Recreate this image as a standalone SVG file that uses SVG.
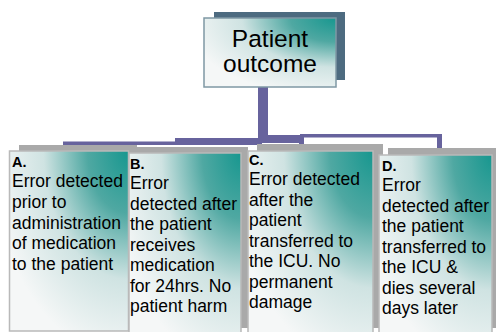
<svg xmlns="http://www.w3.org/2000/svg" width="496" height="332" viewBox="0 0 496 332">
<defs>
<radialGradient id="g" cx="1" cy="0" r="1.15" fx="1" fy="0">
<stop offset="0" stop-color="#17978f"/>
<stop offset="0.3" stop-color="#4fa8a2"/>
<stop offset="0.62" stop-color="#cfe3e2"/>
<stop offset="1" stop-color="#f5f7f7"/>
</radialGradient>
<style>
.sh{fill:#a9a9a9}
.bx{fill:url(#g);stroke:#b9b9b9;stroke-width:1.5}
.lbl{font-family:"Liberation Sans",Arial,sans-serif;font-size:14.5px;font-weight:bold;fill:#000}
.t{font-family:"Liberation Sans",Arial,sans-serif;font-size:17.5px;fill:#000}
.tt{font-family:"Liberation Sans",Arial,sans-serif;font-size:24.5px;fill:#000;text-anchor:middle}
.c{fill:#67639d}
</style>
</defs>
<g id="connectors">
<rect class="c" x="258" y="87" width="10" height="56"/>
<rect class="c" x="258" y="135" width="45" height="8"/>
<rect class="c" x="300" y="134" width="142" height="3.5"/>
<rect class="c" x="437" y="134" width="5" height="15"/>
<rect class="c" x="299" y="137" width="5" height="10"/>
<rect class="c" x="175" y="138" width="87" height="7"/>
<rect class="c" x="63" y="141.5" width="115" height="3.5"/>
</g>
<g id="top">
<rect x="214" y="12" width="131" height="68" fill="#4d6b80"/>
<rect x="204" y="18" width="132" height="69" fill="url(#g)" stroke="#7f98a4" stroke-width="1.5"/>
<text class="tt" x="270" y="46.5">Patient</text>
<text class="tt" x="270" y="71.5">outcome</text>
</g>
<g id="nodeA">
<rect class="sh" x="19" y="145" width="118" height="180"/>
<rect class="bx" x="9.5" y="151" width="119" height="180"/>
<text class="lbl" x="12" y="167">A.</text>
<text class="t" x="12" y="187">Error detected</text>
<text class="t" x="12" y="207.8">prior to</text>
<text class="t" x="12" y="228.6">administration</text>
<text class="t" x="12" y="249.4">of medication</text>
<text class="t" x="12" y="270.2">to the patient</text>
</g>
<g id="nodeB">
<rect class="sh" x="136" y="147" width="112" height="181"/>
<rect class="bx" x="129" y="153" width="112" height="190"/>
<text class="lbl" x="130" y="169">B.</text>
<text class="t" x="130" y="189">Error</text>
<text class="t" x="130" y="209.5">detected after</text>
<text class="t" x="130" y="230">the patient</text>
<text class="t" x="130" y="250.5">receives</text>
<text class="t" x="130" y="271">medication</text>
<text class="t" x="130" y="291.5">for 24hrs. No</text>
<text class="t" x="130" y="312">patient harm</text>
</g>
<g id="nodeC">
<rect class="sh" x="257" y="144" width="126" height="184"/>
<rect class="bx" x="248" y="151" width="125" height="192"/>
<text class="lbl" x="249" y="165">C.</text>
<text class="t" x="249" y="185">Error detected</text>
<text class="t" x="249" y="205.5">after the</text>
<text class="t" x="249" y="226">patient</text>
<text class="t" x="249" y="246.5">transferred to</text>
<text class="t" x="249" y="267">the ICU. No</text>
<text class="t" x="249" y="287.5">permanent</text>
<text class="t" x="249" y="308">damage</text>
</g>
<g id="nodeD">
<rect class="sh" x="388" y="148" width="110" height="180"/>
<rect class="bx" x="379" y="155" width="113" height="190"/>
<text class="lbl" x="382" y="171">D.</text>
<text class="t" x="382" y="191">Error</text>
<text class="t" x="382" y="211.5">detected after</text>
<text class="t" x="382" y="232">the patient</text>
<text class="t" x="382" y="252.5">transferred to</text>
<text class="t" x="382" y="273">the ICU &amp;</text>
<text class="t" x="382" y="293.5">dies several</text>
<text class="t" x="382" y="314">days later</text>
</g>
</svg>
